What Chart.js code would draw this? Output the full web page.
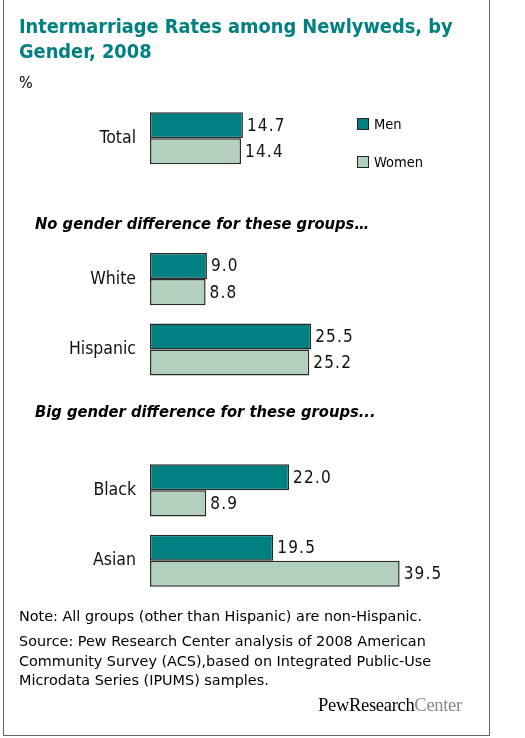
<!DOCTYPE html>
<html>
<head>
<meta charset="utf-8">
<script src="https://cdn.jsdelivr.net/npm/chart.js@4.4.1/dist/chart.umd.min.js"></script>
<style>
  body { margin: 0; background: #fff; font-family: "DejaVu Sans Condensed", "DejaVu Sans", sans-serif; }
  #wrap { position: relative; width: 525px; height: 738px; overflow: hidden; }
  #frame { position: absolute; left: 3px; top: -1px; width: 487px; height: 737px; border: 1.5px solid #666; box-sizing: border-box; }
  #chart { position: absolute; left: 0; top: 0; }
  .title { position: absolute; left: 19px; top: 14px; color: #008080; font-weight: bold; font-size: 19.8px; line-height: 25px; }
  .pct { position: absolute; left: 19px; top: 73px; font-size: 16px; }
  .head { position: absolute; left: 35px; font-weight: bold; font-style: italic; font-size: 16.4px; }
  .legend { position: absolute; left: 357px; font-size: 14.5px; }
  .legend span.sw { display: inline-block; width: 10px; height: 10px; border: 1.5px solid #222; margin-right: 5px; vertical-align: -1px; }
  .note { position: absolute; left: 19px; font-family: "DejaVu Sans", sans-serif; font-size: 14.4px; line-height: 19.5px; }
  .logo { position: absolute; left: 318px; top: 695px; font-family: "Liberation Serif", serif; font-size: 18.5px; letter-spacing: -0.3px; }
</style>
</head>
<body>
<div id="wrap">
  <div id="frame"></div>
  <canvas id="chart" width="525" height="738"></canvas>
  <div class="title">Intermarriage Rates among Newlyweds, by<br>Gender, 2008</div>
  <div class="pct">%</div>
  <div class="legend" id="legMen" style="top:116px"></div>
  <div class="legend" id="legWomen" style="top:154px"></div>
  <div class="head" style="top:214px">No gender difference for these groups…</div>
  <div class="head" style="top:402px">Big gender difference for these groups...</div>
  <div class="note" style="top:607px">Note: All groups (other than Hispanic) are non-Hispanic.</div>
  <div class="note" style="top:632px">Source: Pew Research Center analysis of 2008 American<br>Community Survey (ACS),based on Integrated Public-Use<br>Microdata Series (IPUMS) samples.</div>
  <div class="logo">PewResearch<span style="color:#888">Center</span></div>
</div>
<script>
// blank slots leave room for the section headings
var categories = ["Total", "", "White", "Hispanic", "", "Black", "Asian"];
var men   = [14.7, null, 9.0, 25.5, null, 22.0, 19.5];
var women = [14.4, null, 8.8, 25.2, null, 8.9, 39.5];
var seriesNames = ["Men", "Women"];
var colors = ["#008080", "#b3d0bf"];

$ = function(id){ return document.getElementById(id); };
$("legMen").innerHTML = '<span class="sw" style="background:' + colors[0] + '"></span>' + seriesNames[0];
$("legWomen").innerHTML = '<span class="sw" style="background:' + colors[1] + '"></span>' + seriesNames[1];

var valueLabels = {
    id: 'valueLabels',
    afterDatasetsDraw: function(chart) {
        var ctx = chart.ctx;
        ctx.save();
        ctx.font = '17px "DejaVu Sans Condensed", "DejaVu Sans", sans-serif';
        ctx.letterSpacing = '1.2px';
        ctx.fillStyle = '#111';
        ctx.textBaseline = 'middle';
        chart.data.datasets.forEach(function(ds, i) {
            chart.getDatasetMeta(i).data.forEach(function(bar, j) {
                if (ds.data[j] == null) return;
                ctx.fillText(ds.data[j].toFixed(1), bar.x + 4, bar.y + 1);
            });
        });
        ctx.restore();
    }
};

new Chart($("chart"), {
    type: 'bar',
    data: {
        labels: categories,
        datasets: [
            { label: seriesNames[0], data: men, backgroundColor: colors[0], borderColor: "#2a2a2a", borderWidth: 1.5, borderSkipped: false },
            { label: seriesNames[1], data: women, backgroundColor: colors[1], borderColor: "#2a2a2a", borderWidth: 1.5, borderSkipped: false }
        ]
    },
    options: {
        indexAxis: 'y',
        responsive: false,
        animation: false,
        categoryPercentage: 0.74,
        barPercentage: 1.0,
        layout: { padding: { top: 103, bottom: 142, left: 0, right: 59 } },
        plugins: { legend: { display: false }, tooltip: { enabled: false } },
        scales: {
            x: { display: false, min: 0, max: 50 },
            y: {
                grid: { display: false },
                border: { display: false },
                ticks: { color: '#111', padding: 6, font: { family: '"DejaVu Sans Condensed", "DejaVu Sans", sans-serif', size: 17.5 } },
                afterFit: function(scale) { scale.width = 150; }
            }
        }
    },
    plugins: [valueLabels]
});
</script>
</body>
</html>
